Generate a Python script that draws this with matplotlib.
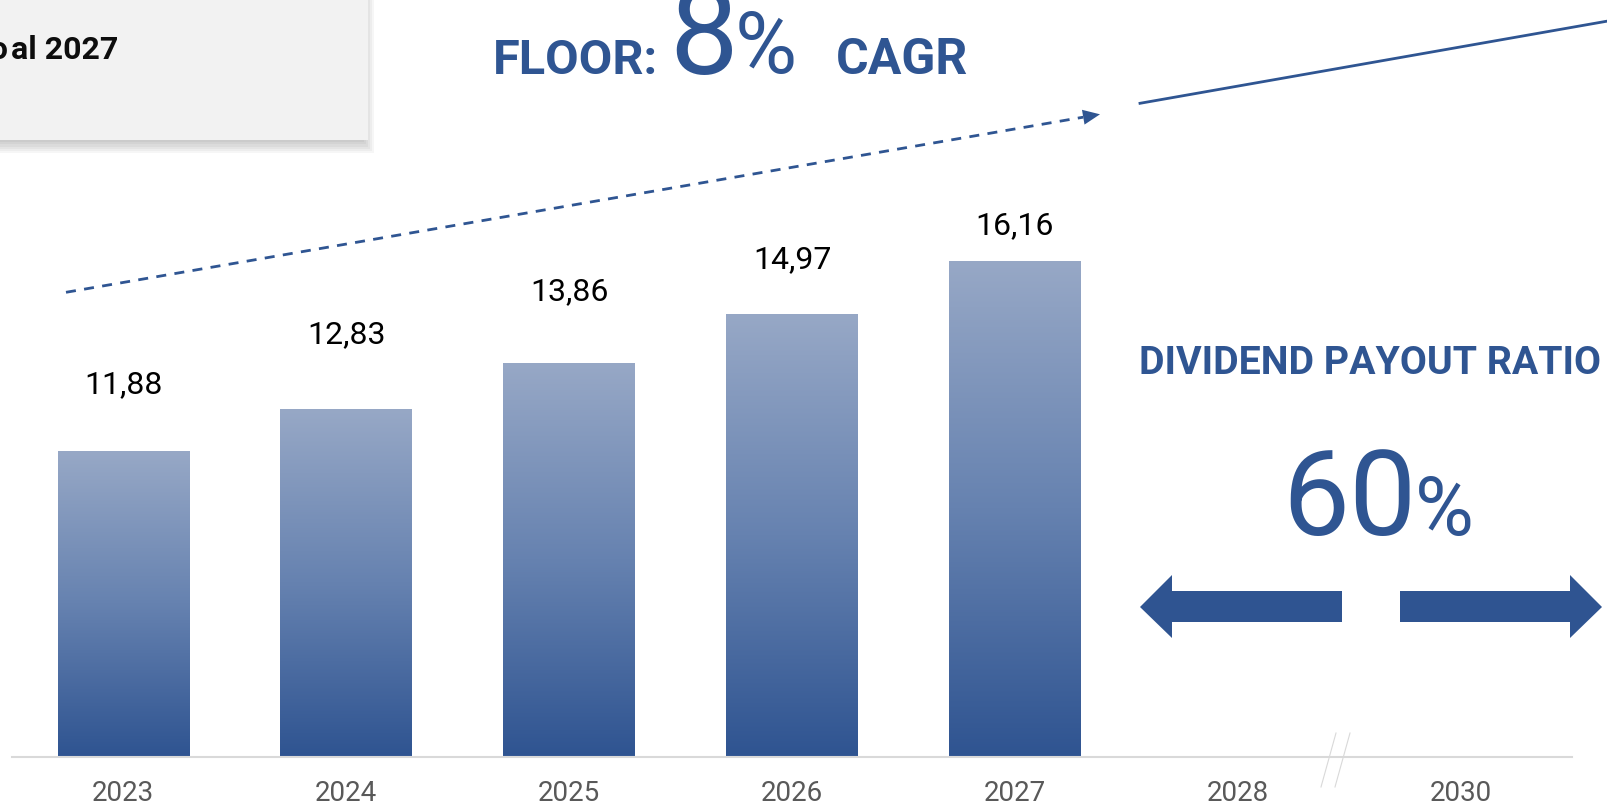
import matplotlib
matplotlib.use('Agg')
import matplotlib.pyplot as plt
import numpy as np
from matplotlib.patches import Rectangle, Polygon
from matplotlib.lines import Line2D
from matplotlib.colors import LinearSegmentedColormap

# ---- data ----
years = ['2023', '2024', '2025', '2026', '2027', '2028', '2030']
dps = [11.88, 12.83, 13.86, 14.97, 16.16]
dps_labels = ['11,88', '12,83', '13,86', '14,97', '16,16']
floor_cagr = '8'
payout_ratio = '60'
box_text_head = 'DPS in crescita fino'
box_text_tail = 'al 2027'

# ---- style ----
label_lift = [1.32, 1.50, 1.44, 1.06, 0.63]
BLUE = '#2F5592'
W, H = 1608, 806

plt.rcParams['font.family'] = ['Roboto', 'DejaVu Sans']
fig = plt.figure(figsize=(W / 100, H / 100), dpi=100)
fig.patch.set_facecolor('white')


def fx(px):
    return px / W


def fy(py):
    return 1 - py / H


def P(pts):
    return [(fx(x), fy(y)) for x, y in pts]


# ---- top-left box with shadow ----
for k in range(6, 0, -1):
    fig.patches.append(Rectangle((0, fy(140 + k * 2.2)), fx(362 + k * 2.0), (140 + k * 2.2) / H,
                                 transform=fig.transFigure, facecolor='#000000',
                                 alpha=0.035, edgecolor='none', zorder=0))
fig.patches.append(Rectangle((0, fy(140)), fx(368), 140 / H, transform=fig.transFigure,
                             facecolor='#F2F2F2', edgecolor='none', zorder=1))
fig.text(fx(8), fy(59.3), box_text_head, ha='right', va='baseline', fontsize=23,
         fontweight='bold', color='#0D0D0D', zorder=2)
fig.text(fx(11), fy(59.3), box_text_tail, ha='left', va='baseline', fontsize=23,
         fontweight='bold', color='#0D0D0D', zorder=2)

# ---- main axes ----
ax = fig.add_axes([fx(11.85), fy(756.5), fx(1572.2) - fx(11.85), 756.5 / H])
ax.set_facecolor('none')
ylo, yhi = 5.0, 5.0 + 756.5 / 44.3
x = np.arange(len(dps))
bars = ax.bar(x, dps, width=0.59, color='none', edgecolor='none', zorder=2)
cmap = LinearSegmentedColormap.from_list('g', ['#2F5491', '#6682B0', '#97A8C6'])
grad = np.linspace(0, 1, 256).reshape(-1, 1)
for b in bars:
    x0 = b.get_x()
    x1 = x0 + b.get_width()
    top = b.get_height()
    ax.imshow(grad, extent=[x0, x1, ylo, top], origin='lower', cmap=cmap,
              aspect='auto', zorder=2, interpolation='bicubic')

for i, (v, lab) in enumerate(zip(dps, dps_labels)):
    ax.text(i, v + label_lift[i], lab, ha='center', va='baseline', fontsize=23,
            color='black')

ax.set_xlim(-0.5, 6.5)
ax.set_ylim(ylo, yhi)
ax.set_xticks(range(len(years)))
ax.set_xticklabels(years, fontsize=20, color='#595959')
ax.tick_params(axis='x', length=0, pad=17)
ax.set_yticks([])
for s in ['top', 'left', 'right']:
    ax.spines[s].set_visible(False)
ax.spines['bottom'].set_color('#D9D9D9')
ax.spines['bottom'].set_linewidth(1.5)

# axis break marks
for seg in ([(1336, 733), (1321, 787)], [(1350, 733), (1335, 787)]):
    (xa, ya), (xb, yb) = seg
    fig.lines.append(Line2D([fx(xa), fx(xb)], [fy(ya), fy(yb)], transform=fig.transFigure,
                            color='#D9D9D9', lw=0.8))

# ---- title ----
fig.text(fx(493), fy(74), 'FLOOR:', ha='left', va='baseline', fontsize=35,
         fontweight='bold', color=BLUE)
fig.text(fx(669), fy(74), floor_cagr, ha='left', va='baseline', fontsize=88,
         color=BLUE)
fig.text(fx(735), fy(73), '%', ha='left', va='baseline', fontsize=61,
         color=BLUE)
fig.text(fx(835.5), fy(74), 'CAGR', ha='left', va='baseline', fontsize=36,
         fontweight='bold', color=BLUE)

# ---- growth arrow (dashed + solid) ----
sx, sy = 66, 292.3
tx, ty = 1100, 114.3
d = np.array([tx - sx, ty - sy])
u = d / np.linalg.norm(d)
n = np.array([-u[1], u[0]])
hl, hw = 17, 7.5
base = np.array([tx, ty]) - u * hl
fig.lines.append(Line2D([fx(sx), fx(base[0])], [fy(sy), fy(base[1])], transform=fig.transFigure,
                        color=BLUE, lw=2.0, dashes=(3.6, 3.0)))
head = [tuple(np.array([tx, ty])), tuple(base + n * hw), tuple(base - n * hw)]
fig.patches.append(Polygon(P(head), closed=True, transform=fig.transFigure,
                           facecolor=BLUE, edgecolor='none'))
fig.lines.append(Line2D([fx(1140), fx(1608)], [fy(103.3), fy(21)], transform=fig.transFigure,
                        color=BLUE, lw=2.0))

# ---- payout ratio ----
fig.text(fx(1369.7), fy(374), 'DIVIDEND PAYOUT RATIO', ha='center', va='baseline',
         fontsize=28.3, fontweight='bold', color=BLUE)
fig.text(fx(1282), fy(535), payout_ratio, ha='left', va='baseline', fontsize=86,
         color=BLUE)
fig.text(fx(1415), fy(535), '%', ha='left', va='baseline', fontsize=58, color=BLUE)

left_arrow = [(1140, 607), (1172, 575), (1172, 591), (1342, 591), (1342, 622),
              (1172, 622), (1172, 638)]
right_arrow = [(1602, 607), (1570, 575), (1570, 591), (1400, 591), (1400, 622),
               (1570, 622), (1570, 638)]
for arr in (left_arrow, right_arrow):
    fig.patches.append(Polygon(P(arr), closed=True, transform=fig.transFigure,
                               facecolor='#2F5491', edgecolor='none'))

fig.savefig('out.png', dpi=100, facecolor='white')
